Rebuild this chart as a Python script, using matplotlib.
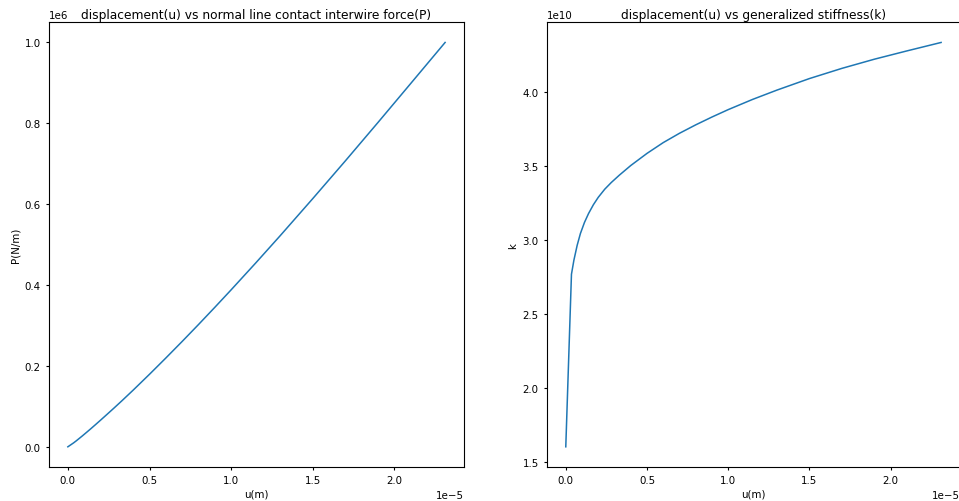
import matplotlib
matplotlib.use("Agg")
import matplotlib.pyplot as plt
import numpy as np

# displacement u (x 1e-5 m)
u = [0, 0.035, 0.05, 0.07, 0.09, 0.115, 0.14, 0.17, 0.2, 0.24, 0.28, 0.33,
     0.4, 0.5, 0.6, 0.7, 0.8, 0.9, 1.0, 1.15, 1.3, 1.5, 1.7, 1.9, 2.1, 2.31]
# normal line contact interwire force P (x 1e6 N/m)
P = [0, 0.0097, 0.0143, 0.0208, 0.0274, 0.0359, 0.0445, 0.0551, 0.0658,
     0.0803, 0.0949, 0.1135, 0.1402, 0.1794, 0.2196, 0.2606, 0.3024,
     0.3450, 0.3883, 0.4545, 0.5220, 0.6140, 0.7075, 0.8026, 0.8988, 1.0]
# generalized stiffness k (x 1e10)
k = [1.603, 2.77, 2.865, 2.965, 3.045, 3.12, 3.18, 3.24, 3.29, 3.345, 3.39,
     3.44, 3.505, 3.587, 3.66, 3.723, 3.78, 3.833, 3.883, 3.952, 4.015,
     4.093, 4.162, 4.224, 4.28, 4.337]

u_m = np.array(u) * 1e-5
P_nm = np.array(P) * 1e6
k_v = np.array(k) * 1e10

plt.rcParams['font.size'] = 7.4
plt.rcParams['xtick.major.size'] = 2.5
plt.rcParams['ytick.major.size'] = 2.5

fig = plt.figure(figsize=(9.59, 5.02), dpi=100)
ax1 = fig.add_axes([0.0511, 0.0677, 0.4327, 0.886])
ax2 = fig.add_axes([0.5704, 0.0677, 0.4305, 0.886])

ax1.plot(u_m, P_nm, lw=1.1)
ax1.set_title("displacement(u) vs normal line contact interwire force(P)", fontsize=8.8, pad=3)
ax1.set_xlabel("u(m)", labelpad=2)
ax1.set_ylabel("P(N/m)", labelpad=3)
ax1.set_yticks([0, 0.2e6, 0.4e6, 0.6e6, 0.8e6, 1.0e6])

ax2.plot(u_m, k_v, lw=1.1)
ax2.set_title("displacement(u) vs generalized stiffness(k)", fontsize=8.8, pad=3)
ax2.set_xlabel("u(m)", labelpad=2)
ax2.set_ylabel("k", labelpad=3)

for ax in (ax1, ax2):
    ax.set_xticks([0, 0.5e-5, 1.0e-5, 1.5e-5, 2.0e-5])

fig.savefig("out.png", dpi=100)
